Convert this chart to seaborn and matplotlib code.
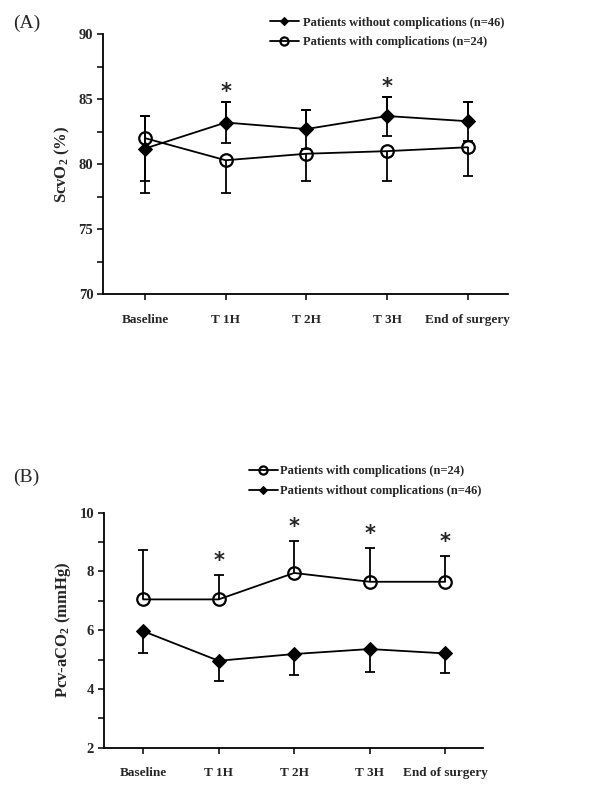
import numpy as np
import pandas as pd
import seaborn as sns
import matplotlib.pyplot as plt
from matplotlib.ticker import MultipleLocator

times = ['Baseline', 'T 1H', 'T 2H', 'T 3H', 'End of surgery']

# (A) ScvO2
scvo2_without = [81.2, 83.2, 82.7, 83.7, 83.3]
scvo2_without_sd = [2.5, 1.6, 1.5, 1.5, 1.5]
scvo2_with = [82.0, 80.3, 80.8, 81.0, 81.3]
scvo2_with_sd = [4.2, 2.5, 2.1, 2.3, 2.2]
scvo2_stars = ['T 1H', 'T 3H']

# (B) Pcv-aCO2
pco2_with = [7.05, 7.05, 7.95, 7.65, 7.65]
pco2_with_sd = [1.68, 0.84, 1.1, 1.14, 0.89]
pco2_without = [5.97, 4.96, 5.19, 5.36, 5.21]
pco2_without_sd = [0.74, 0.69, 0.72, 0.77, 0.66]
pco2_stars = ['T 1H', 'T 2H', 'T 3H', 'End of surgery']

lab_without = 'Patients without complications (n=46)'
lab_with = 'Patients with complications (n=24)'

sns.set_style('ticks')
plt.rcParams['font.family'] = ['Liberation Serif', 'DejaVu Serif']
plt.rcParams['font.weight'] = 'bold'
plt.rcParams['mathtext.default'] = 'regular'

fig = plt.figure(figsize=(6, 7.93), dpi=100)
axA = fig.add_axes([0.1717, 0.629, 0.675, 0.328])
axB = fig.add_axes([0.173, 0.0571, 0.632, 0.2963])

diamond = dict(marker='D', markersize=7, markerfacecolor='black', markeredgecolor='black')
circle = dict(marker='o', markersize=9, markerfacecolor='none', markeredgecolor='black',
              markeredgewidth=1.6)


def series(ax, means, sd, label, style, side):
    df = pd.DataFrame({'time': times, 'value': means})
    sns.lineplot(data=df, x='time', y='value', color='black', lw=1.3, label=label,
                 sort=False, ax=ax, **style)
    x = np.arange(len(times))
    zero = np.zeros(len(sd))
    yerr = [sd, zero] if side == 'down' else [zero, sd]
    eb = ax.errorbar(x, means, yerr=yerr, fmt='none', ecolor='black', elinewidth=1.3,
                     capsize=3.5, capthick=1.3, zorder=1)
    # hide the cap sitting on the mean
    eb[1][1 if side == 'down' else 0].set_visible(False)


def stars(ax, means, sd, which, dy):
    for t in which:
        i = times.index(t)
        ax.annotate('*', (i, means[i] + sd[i]), xytext=(0, dy), textcoords='offset points',
                    ha='center', va='center', fontsize=15, family='DejaVu Sans',
                    fontweight='bold')


def style_axis(ax, ylim, major, minor, ylabel):
    ax.set_xlim(-0.52, 4.5)
    ax.set_ylim(*ylim)
    ax.yaxis.set_major_locator(MultipleLocator(major))
    ax.yaxis.set_minor_locator(MultipleLocator(minor))
    sns.despine(ax=ax)
    for s in ['left', 'bottom']:
        ax.spines[s].set_linewidth(1.3)
        ax.spines[s].set_color('black')
    ax.tick_params(axis='both', which='major', length=4, width=1.3, pad=3)
    ax.tick_params(axis='x', pad=10, labelsize=9.5)
    ax.tick_params(axis='y', labelsize=10.5)
    ax.tick_params(axis='y', which='minor', length=4, width=1.3)
    ax.set_xlabel('')
    ax.set_ylabel(ylabel, fontsize=12, fontweight='bold', labelpad=5)
    for lb in ax.get_xticklabels() + ax.get_yticklabels():
        lb.set_fontweight('bold')


# panel A
series(axA, scvo2_without, scvo2_without_sd, lab_without, diamond, 'both')
series(axA, scvo2_with, scvo2_with_sd, lab_with, circle, 'down')
axA.errorbar(np.arange(5), scvo2_without, yerr=scvo2_without_sd, fmt='none', ecolor='black',
             elinewidth=1.3, capsize=3.5, capthick=1.3, zorder=1)
stars(axA, scvo2_without, scvo2_without_sd, scvo2_stars, 7)
style_axis(axA, (70, 90), 5, 2.5, 'ScvO$_2$ (%)')
axA.legend(loc='upper left', bbox_to_anchor=(0.45, 0.979), bbox_transform=fig.transFigure,
           frameon=False, borderpad=0, borderaxespad=0, handlelength=2.3, handletextpad=0.35,
           labelspacing=0.6, markerscale=0.65, prop={'size': 9, 'weight': 'bold'})
fig.text(0.022, 0.971, '(A)', fontsize=14, fontweight='normal', va='center')

# panel B
series(axB, pco2_with, pco2_with_sd, lab_with, circle, 'up')
series(axB, pco2_without, pco2_without_sd, lab_without, diamond, 'down')
stars(axB, pco2_with, pco2_with_sd, pco2_stars, 10)
style_axis(axB, (2, 10), 2, 1, 'Pcv-aCO$_2$ (mmHg)')
axB.legend(loc='upper left', bbox_to_anchor=(0.415, 0.413), bbox_transform=fig.transFigure,
           frameon=False, borderpad=0, borderaxespad=0, handlelength=2.3, handletextpad=0.2,
           labelspacing=0.6, markerscale=0.65, prop={'size': 9, 'weight': 'bold'})
fig.text(0.022, 0.3985, '(B)', fontsize=14, fontweight='normal', va='center')

fig.savefig('out.png', dpi=100)
